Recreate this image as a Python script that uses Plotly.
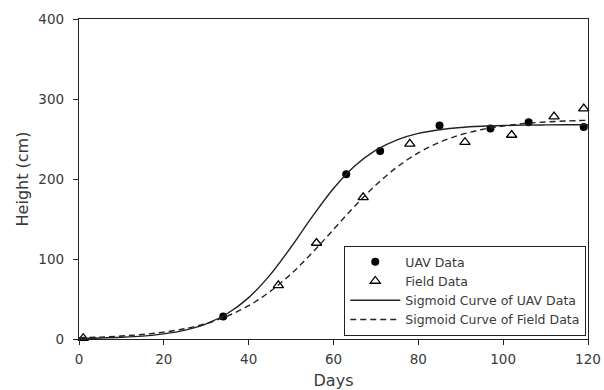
import plotly.graph_objects as go

# Observed data
uav_days = [34, 63, 71, 85, 97, 106, 119]
uav_height = [28, 206, 235, 267, 263, 271, 265]

field_days = [1, 47, 56, 67, 78, 91, 102, 112, 119]
field_height = [1, 67, 120, 177, 244, 246, 255, 278, 288]

# Sigmoid curves
curve_days = [0, 5, 10, 15, 20, 25, 30, 35, 40, 45, 50, 55, 60, 65, 70, 75,
              80, 85, 90, 95, 100, 105, 110, 115, 120]
uav_curve = [0.7, 1.2, 2.1, 3.6, 6.4, 11.1, 19.0, 31.9, 51.7, 79.8, 115.0, 153.0,
             188.2, 216.3, 236.1, 249.0, 257.0, 261.6, 264.4, 265.9, 266.8, 267.3,
             267.6, 267.8, 267.9]
field_curve = [1.6, 2.4, 3.7, 5.7, 8.6, 12.9, 19.4, 28.7, 41.7, 59.2, 81.4, 107.9,
               136.9, 166.0, 192.5, 215.0, 232.7, 245.9, 255.3, 261.9, 266.3, 269.3,
               271.2, 272.5, 273.4]

x_ticks = [0, 20, 40, 60, 80, 100, 120]
y_ticks = [0, 100, 200, 300, 400]

FONT = "DejaVu Sans, Verdana, sans-serif"

fig = go.Figure()
fig.add_trace(go.Scatter(x=uav_days, y=uav_height, mode="markers", name="UAV Data",
                         marker=dict(symbol="circle", size=8, color="black"),
                         cliponaxis=False))
fig.add_trace(go.Scatter(x=field_days, y=field_height, mode="markers", name="Field Data",
                         marker=dict(symbol="triangle-up-open", size=9, color="black",
                                     line=dict(width=1.3, color="black")),
                         cliponaxis=False))
fig.add_trace(go.Scatter(x=curve_days, y=uav_curve, mode="lines",
                         name="Sigmoid Curve of UAV Data",
                         line=dict(color="#222", width=1.4, shape="spline")))
fig.add_trace(go.Scatter(x=curve_days, y=field_curve, mode="lines",
                         name="Sigmoid Curve of Field Data",
                         line=dict(color="#222", width=1.4, shape="spline", dash="6px,4px")))

axis_font = dict(family=FONT, size=13.5, color="#3a3a3a")
fig.update_layout(
    width=604, height=390,
    margin=dict(l=79, r=16, t=19, b=51),
    paper_bgcolor="white", plot_bgcolor="white",
    font=dict(family=FONT, size=13, color="#3a3a3a"),
    showlegend=True,
    legend=dict(x=0.996, xanchor="right", y=0.01, yanchor="bottom",
                bordercolor="#222", borderwidth=1.3, bgcolor="white",
                itemwidth=50,
                font=dict(family=FONT, size=12.5, color="#3a3a3a"), tracegroupgap=0),
    xaxis=dict(range=[0, 120], tickvals=x_ticks, ticktext=[str(v) for v in x_ticks],
               automargin=False,
               showgrid=False, zeroline=False, showline=True, linecolor="#222",
               linewidth=1.3, mirror=True, ticks="outside", ticklen=5, tickcolor="#222",
               tickfont=axis_font, ticklabelstandoff=3,
               title=dict(text="Days", font=dict(family=FONT, size=16, color="#3a3a3a"),
                          standoff=9)),
    yaxis=dict(range=[0, 400], tickvals=y_ticks, ticktext=[str(v) for v in y_ticks],
               automargin=False,
               showgrid=False, zeroline=False, showline=True, linecolor="#222",
               linewidth=1.3, mirror=True, ticks="outside", ticklen=5, tickcolor="#222",
               tickfont=axis_font, ticklabelstandoff=6,
               title=dict(text="Height (cm)", font=dict(family=FONT, size=16, color="#3a3a3a"),
                          standoff=5)),
)

fig.write_html("out.html", config={"displayModeBar": False},
               post_script="document.body.style.margin='0';document.body.style.overflow='hidden';")
